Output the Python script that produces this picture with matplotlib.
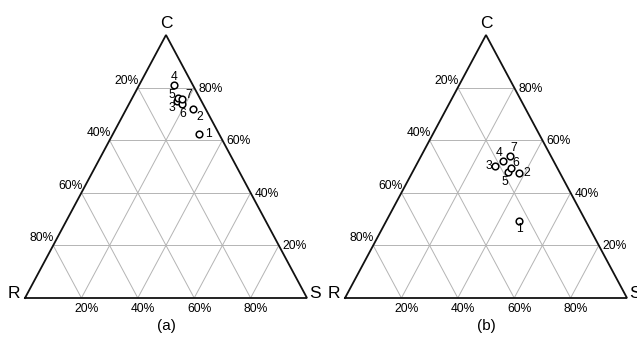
import matplotlib
matplotlib.use("Agg")
import matplotlib.pyplot as plt
import numpy as np

plt.rcParams['font.family'] = ['Liberation Sans', 'DejaVu Sans']

# ---- data (percent of S and C; R = 100 - S - C) ----
point_labels = ['1', '2', '3', '4', '5', '6', '7']
a_S = [30.4, 23.5, 16.3, 12.4, 16.3, 19.0, 18.0]
a_C = [62.5, 71.9, 75.0, 80.9, 76.2, 73.6, 75.6]
b_S = [47.0, 38.1, 28.0, 29.9, 33.8, 34.2, 31.5]
b_C = [29.3, 47.4, 50.3, 52.0, 47.8, 49.3, 54.1]
grid_ticks = [20, 40, 60, 80]
tick_fmt = '{}%'
panel_names = ['(a)', '(b)']
vertex_names = ['R', 'S', 'C']

# label offsets in pixels (layout only)
a_off = [(6, 0), (7, -8), (-5, -7), (0, 8), (-7, 3), (0, -10), (6, 4)]
b_off = [(1, -8), (8, 0), (-6, 0), (-4, 8), (-3, -10), (5, 5), (4, 8)]
a_ha = ['left', 'center', 'center', 'center', 'center', 'center', 'center']
b_ha = ['center', 'center', 'center', 'center', 'center', 'center', 'center']

W, H = 637, 340
fig = plt.figure(figsize=(W / 100, H / 100), dpi=100)


def tern(S, C):
    S = np.asarray(S, float) / 100.0
    C = np.asarray(C, float) / 100.0
    return S + C / 2.0, C


def draw_panel(x_left_px, S, C, offs, has, name):
    ax = fig.add_axes([x_left_px / W, (H - 298) / H, 282 / W, 263 / H])
    ax.set_xlim(0, 1)
    ax.set_ylim(0, 1)
    ax.axis('off')
    gcol = '#b4b4b4'
    for t in grid_ticks:
        k = t
        # horizontal (C const)
        x, y = tern([0, 100 - k], [k, k])
        ax.plot(x, y, color=gcol, lw=0.7, zorder=1)
        # S const
        x, y = tern([k, k], [0, 100 - k])
        ax.plot(x, y, color=gcol, lw=0.7, zorder=1)
        # R const
        x, y = tern([100 - k, 0], [0, 100 - k])
        ax.plot(x, y, color=gcol, lw=0.7, zorder=1)
    # triangle edges
    x, y = tern([0, 100, 0, 0], [0, 0, 100, 0])
    ax.plot(x, y, color='#111111', lw=1.3, zorder=2, clip_on=False,
            solid_joinstyle='miter')
    # tick labels
    fs = 8.7
    for t in grid_ticks:
        # left edge: R
        x, y = tern([0], [100 - t])
        ax.annotate(tick_fmt.format(t), (x[0], y[0]), xytext=(1, 1),
                    textcoords='offset pixels', ha='right', va='bottom',
                    fontsize=fs, annotation_clip=False)
        # right edge: C
        x, y = tern([100 - t], [t])
        ax.annotate(tick_fmt.format(t), (x[0], y[0]), xytext=(4, -1),
                    textcoords='offset pixels', ha='left', va='center',
                    fontsize=fs, annotation_clip=False)
        # bottom: S
        x, y = tern([t], [0])
        ax.annotate(tick_fmt.format(t), (x[0], y[0]), xytext=(5, -5),
                    textcoords='offset pixels', ha='center', va='top',
                    fontsize=fs, annotation_clip=False)
    # vertex labels
    vfs = 12.5
    x, y = tern([0], [0])
    ax.annotate(vertex_names[0], (x[0], y[0]), xytext=(-11, 4),
                textcoords='offset pixels', ha='center', va='center',
                fontsize=vfs, annotation_clip=False)
    x, y = tern([100], [0])
    ax.annotate(vertex_names[1], (x[0], y[0]), xytext=(8, 4),
                textcoords='offset pixels', ha='center', va='center',
                fontsize=vfs, annotation_clip=False)
    x, y = tern([0], [100])
    ax.annotate(vertex_names[2], (x[0], y[0]), xytext=(0, 12),
                textcoords='offset pixels', ha='center', va='center',
                fontsize=vfs, annotation_clip=False)
    # panel name
    x, y = tern([50], [0])
    ax.annotate(name, (x[0], y[0]), xytext=(0, -28),
                textcoords='offset pixels', ha='center', va='center',
                fontsize=11, annotation_clip=False)
    # points
    px, py = tern(S, C)
    ax.plot(px, py, 'o', ms=4.8, mfc='white', mec='black', mew=1.1,
            ls='none', zorder=4, clip_on=False)
    for lab, xx, yy, off, ha in zip(point_labels, px, py, offs, has):
        ax.annotate(lab, (xx, yy), xytext=off, textcoords='offset pixels',
                    ha=ha, va='center', fontsize=fs, zorder=5,
                    annotation_clip=False)
    return ax


draw_panel(25, a_S, a_C, a_off, a_ha, panel_names[0])
draw_panel(345, b_S, b_C, b_off, b_ha, panel_names[1])

fig.savefig('out.png', dpi=100)
